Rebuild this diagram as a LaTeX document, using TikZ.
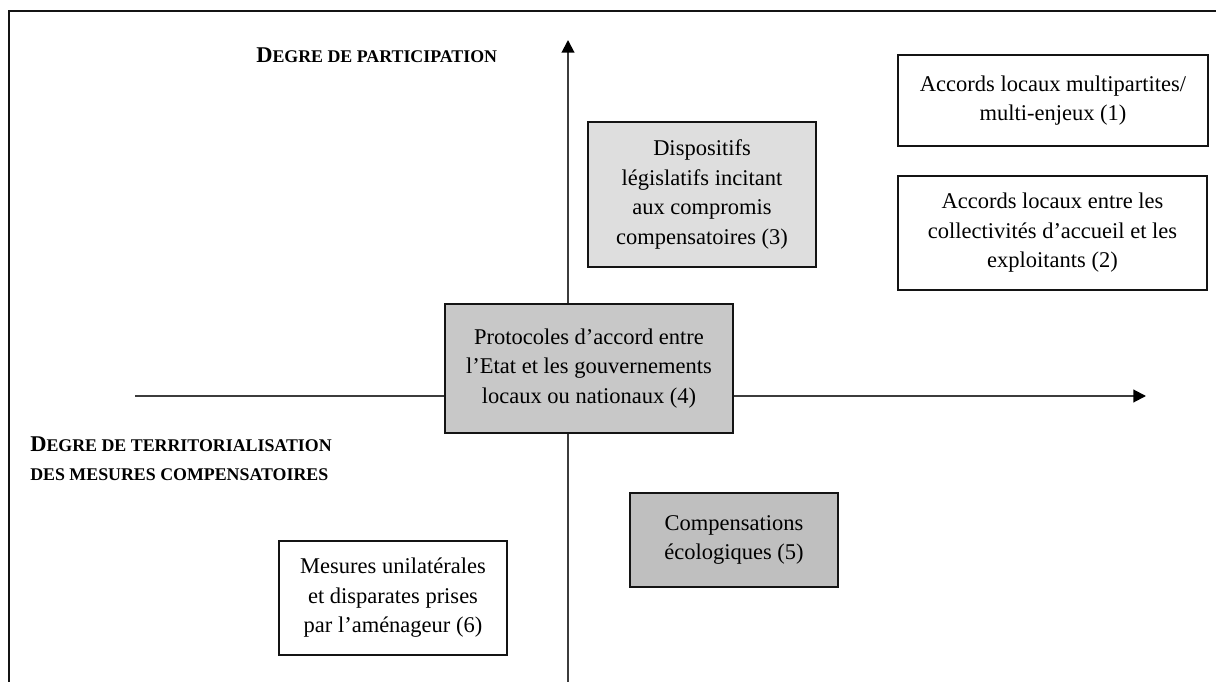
\documentclass[tikz,border=0pt]{standalone}
\usepackage{fontspec}
\setmainfont{Liberation Serif}
\usetikzlibrary{arrows.meta}
\newcommand\capsfirst[2]{{\fontsize{16}{20}\selectfont#1}{\fontsize{12.7}{20}\selectfont#2}}

\begin{document}
\begin{tikzpicture}[x=0.025cm,y=-0.025cm,
  axislabel/.style={font=\bfseries, inner sep=0pt, anchor=base west},
  axisline/.style={axisgray, line width=1.4pt, -{Triangle[length=9pt,width=9pt,color=black]}},
  box/.style={draw=ink, line width=1.5pt, align=center, inner sep=0pt,
    font=\fontsize{16}{21}\selectfont}]
  \definecolor{ink}{RGB}{20,20,20}
  \definecolor{axisgray}{RGB}{60,60,60}
  \definecolor{paleshade}{RGB}{222,222,222}
  \definecolor{midshade}{RGB}{200,200,200}
  \definecolor{darkshade}{RGB}{191,191,191}
  \useasboundingbox (0,0) rectangle (1216,682);

  % frame
  \draw[ink, line width=1.4pt] (9,682) -- (9,11) -- (1216,11);

  % axes
  \coordinate (ybot) at (568,682);
  \coordinate (ytop) at (568,40);
  \coordinate (xleft) at (135,396);
  \coordinate (xright) at (1146,396);
  \draw[axisline] (ybot) -- (ytop);
  \draw[axisline] (xleft) -- (xright);

  \node[axislabel] (ylab) at (256,63) {\capsfirst{D}{EGRE DE PARTICIPATION}};
  \node[axislabel] (xlab) at (30,451) {\capsfirst{D}{EGRE DE TERRITORIALISATION}};
  \node[axislabel] (xlab2) at (30,480) {\fontsize{12.7}{20}\selectfont DES MESURES COMPENSATOIRES};

  % boxes
  \node[box, fill=white, minimum width=7.75cm, minimum height=2.28cm] (b1) at (1053,100.5)
    {Accords locaux multipartites/\\multi-enjeux (1)};
  \node[box, fill=white, minimum width=7.73cm, minimum height=2.85cm] (b2) at (1052.5,233)
    {Accords locaux entre les\\collectivités d’accueil et les\\exploitants (2)};
  \node[box, fill=paleshade, minimum width=5.7cm, minimum height=3.63cm] (b3) at (702,194.5)
    {Dispositifs\\législatifs incitant\\aux compromis\\compensatoires (3)};
  \node[box, fill=midshade, minimum width=7.2cm, minimum height=3.23cm] (b4) at (589,368.5)
    {Protocoles d’accord entre\\l’Etat et les gouvernements\\locaux ou nationaux (4)};
  \node[box, fill=darkshade, minimum width=5.2cm, minimum height=2.35cm] (b5) at (734,540)
    {Compensations\\écologiques (5)};
  \node[box, fill=white, minimum width=5.7cm, minimum height=2.85cm] (b6) at (393,598)
    {Mesures unilatérales\\et disparates prises\\par l’aménageur (6)};
\end{tikzpicture}
\end{document}
